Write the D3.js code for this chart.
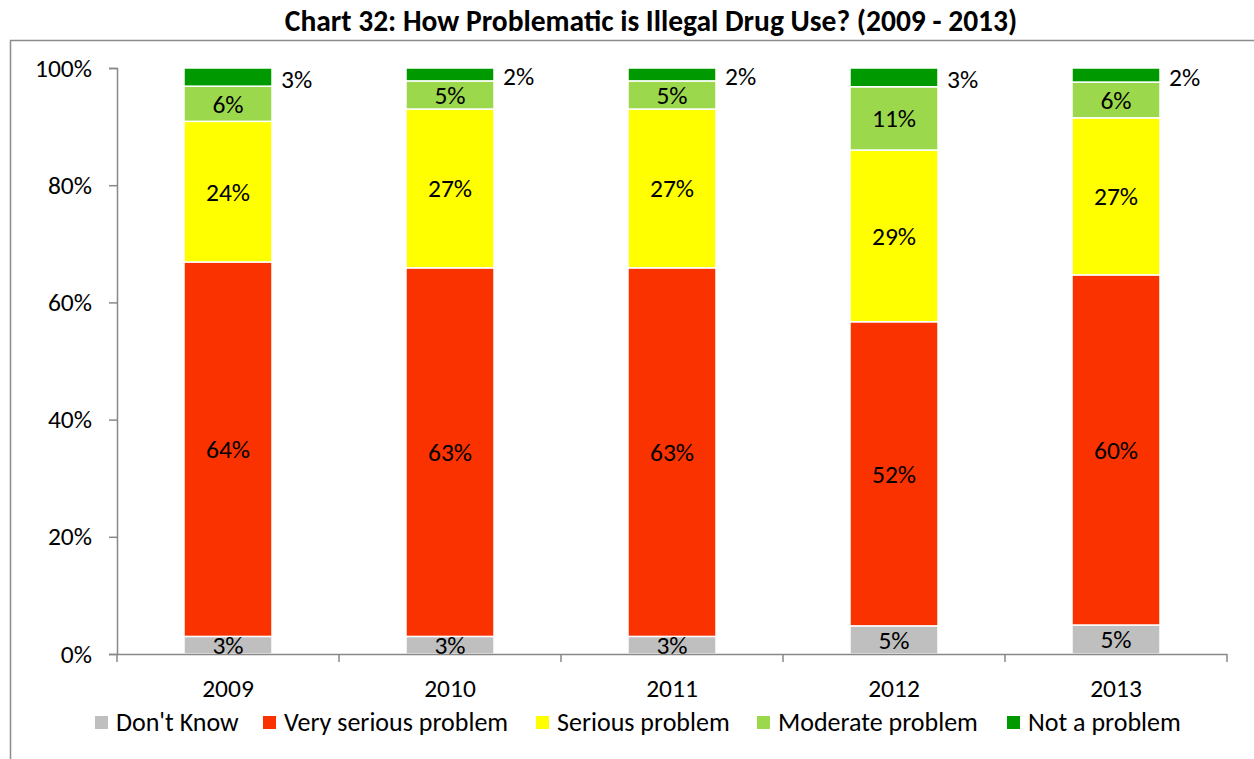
<!DOCTYPE html>
<html><head><meta charset="utf-8">
<script src="https://cdn.jsdelivr.net/npm/d3@7"></script>
<style>body{margin:0;background:#fff}svg{display:block;font-family:Carlito,Lato,"Open Sans",sans-serif}</style>
</head><body><svg id="c" width="1254" height="759"></svg>
<script>
const years = ["2009","2010","2011","2012","2013"];
const seriesNames = ["Don't Know","Very serious problem","Serious problem","Moderate problem","Not a problem"];
const dontKnow = [3.0, 3.0, 3.0, 4.8, 4.95];
const verySerious = [63.9, 62.9, 62.9, 51.9, 59.75];
const serious = [24.0, 27.1, 27.1, 29.3, 26.8];
const moderate = [6.0, 4.8, 4.8, 10.8, 6.1];
const notProblem = [3.1, 2.2, 2.2, 3.2, 2.4];
const yTicks = [0, 20, 40, 60, 80, 100];
const colors = ["#bfbfbf","#fa3200","#ffff00","#9bd84c","#009a00"];

const seriesVals = [dontKnow, verySerious, serious, moderate, notProblem];
const rows = years.map((y,i)=>{const o={year:y}; seriesNames.forEach((s,k)=>o[s]=seriesVals[k][i]); return o;});
const stack = d3.stack().keys(seriesNames)(rows);

const svg = d3.select("#c");
const x = d3.scaleBand().domain(years).range([117,1227]).paddingInner(0.6036).paddingOuter(0.3018);
const y = d3.scaleLinear().domain([0,100]).range([654,68]);
const FS = 25.5;

// frame
svg.append("path").attr("d","M10.5,759 V40.5 H1254").attr("fill","none").attr("stroke","#8c8c8c").attr("stroke-width",1.5);

svg.append("text").attr("x",651).attr("y",31).attr("text-anchor","middle")
  .attr("font-weight","bold").attr("font-size",29.5).text("Chart 32: How Problematic is Illegal Drug Use? (2009 - 2013)");

// y axis
const yAx = svg.append("g").attr("transform","translate(117,0)")
  .call(d3.axisLeft(y).tickValues(yTicks).tickFormat(d=>d+"%").tickSize(8).tickPadding(17));
yAx.select(".domain").attr("stroke","#888").attr("stroke-width",1.5);
yAx.selectAll(".tick line").attr("stroke","#888").attr("stroke-width",1.5);
yAx.selectAll("text").attr("font-size",FS).attr("fill","#000").attr("font-family","Carlito,Lato,sans-serif");

// bars
const g = svg.append("g");
stack.forEach((layer,k)=>{
  g.selectAll(null).data(layer).enter().append("rect")
    .attr("x",d=>x(d.data.year)).attr("width",x.bandwidth())
    .attr("y",d=>y(d[1])).attr("height",d=>y(d[0])-y(d[1]))
    .attr("fill",colors[k]).attr("stroke","#fff").attr("stroke-width",1.5);
});
// labels
stack.forEach((layer,k)=>{
  g.selectAll(null).data(layer).enter().append("text")
    .attr("x",d=> k===4 ? x(d.data.year)+x.bandwidth()+9 : x(d.data.year)+x.bandwidth()/2)
    .attr("y",d=> (y(d[0])+y(d[1]))/2 + (k===4?2:0))
    .attr("dy","0.35em")
    .attr("text-anchor",k===4?"start":"middle")
    .attr("font-size",FS).attr("fill","#000")
    .text(d=>Math.round(d[1]-d[0])+"%");
});

// x axis
const bounds = d3.range(years.length+1).map(i=>117+i*222);
svg.append("line").attr("x1",117).attr("x2",1227).attr("y1",654.5).attr("y2",654.5).attr("stroke","#888").attr("stroke-width",1.5);
svg.selectAll(null).data(bounds).enter().append("line")
  .attr("x1",d=>d).attr("x2",d=>d).attr("y1",654).attr("y2",662).attr("stroke","#888").attr("stroke-width",1.5);
svg.selectAll(null).data(years).enter().append("text")
  .attr("x",d=>x(d)+x.bandwidth()/2).attr("y",697).attr("text-anchor","middle")
  .attr("font-size",FS).text(d=>d);

// legend
const legX = [95, 263, 536, 757, 1007];
const leg = svg.selectAll(null).data(seriesNames).enter().append("g")
  .attr("transform",(d,i)=>`translate(${legX[i]},716)`);
leg.append("rect").attr("width",13).attr("height",13).attr("fill",(d,i)=>colors[i]);
leg.append("text").attr("x",21).attr("y",15).attr("font-size",26).text(d=>d);
</script></body></html>
